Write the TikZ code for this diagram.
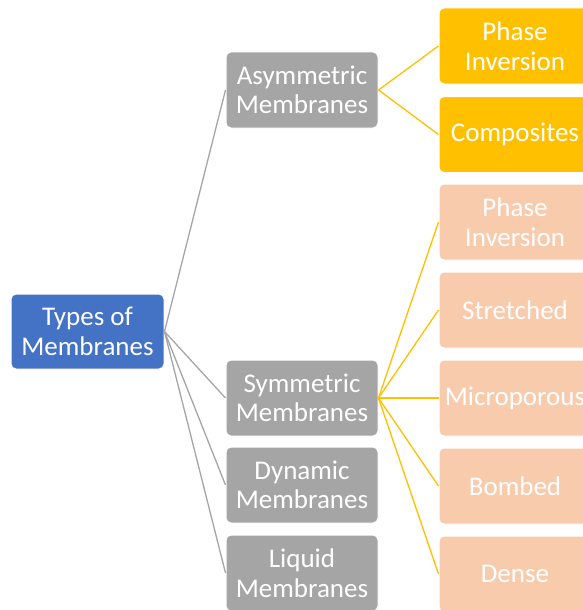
\documentclass[tikz,border=0pt]{standalone}
\usepackage{fontspec}
\setmainfont{Carlito}
\definecolor{rootblue}{HTML}{4472C4}
\definecolor{midgray}{HTML}{A5A5A5}
\definecolor{gold}{HTML}{FFC000}
\definecolor{peach}{HTML}{F8CBAD}
\tikzset{
  box/.style={rectangle, rounded corners=5pt, draw=white, line width=1pt,
    minimum width=152pt, minimum height=76pt, inner sep=0pt, align=center,
    text=white, font=\fontsize{27}{29.5}\selectfont},
  rootbox/.style={box, fill=rootblue, minimum width=153pt, minimum height=75pt},
  graybox/.style={box, fill=midgray},
  goldbox/.style={box, fill=gold},
  peachbox/.style={box, fill=peach},
  grayline/.style={draw=midgray, line width=1.3pt},
  goldline/.style={draw=gold, line width=1.3pt}
}
\begin{document}
\begin{tikzpicture}[x=1pt,y=-1pt]
\useasboundingbox (0,0) rectangle (583,610);
\clip (0,0) rectangle (583,610);
\node[rootbox] (root) at (87.5,331.5) {Types of\\Membranes};
\node[graybox] (asym) at (302,90) {Asymmetric\\Membranes};
\node[graybox] (sym) at (302,398) {Symmetric\\Membranes};
\node[graybox] (dyn) at (302,485) {Dynamic\\Membranes};
\node[graybox] (liq) at (302,573) {Liquid\\Membranes};
\node[goldbox] (pia) at (515,46) {Phase\\Inversion};
\node[goldbox] (comp) at (515,134.5) {Composites};
\node[peachbox] (pis) at (515,222) {Phase\\Inversion};
\node[peachbox] (str) at (515,310) {Stretched};
\node[peachbox] (mic) at (515,398) {Microporous};
\node[peachbox] (bomb) at (515,486) {Bombed};
\node[peachbox] (dense) at (515,574) {Dense};
\foreach \t in {asym,sym,dyn,liq} \draw[grayline] (root.east) -- (\t.west);
\foreach \t in {pia,comp} \draw[goldline] (asym.east) -- (\t.west);
\foreach \t in {pis,str,mic,bomb,dense} \draw[goldline] (sym.east) -- (\t.west);
\end{tikzpicture}
\end{document}
